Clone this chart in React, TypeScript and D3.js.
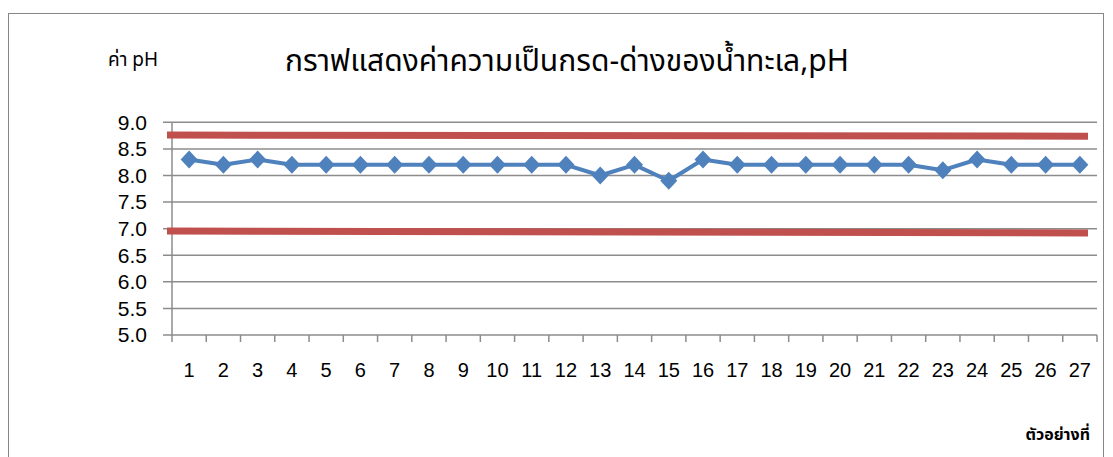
import React from "react";
import * as d3 from "d3";

const categories = Array.from({ length: 27 }, (_, i) => String(i + 1));
const phValues = [8.3, 8.2, 8.3, 8.2, 8.2, 8.2, 8.2, 8.2, 8.2, 8.2, 8.2, 8.2, 8.0, 8.2, 7.9, 8.3, 8.2, 8.2, 8.2, 8.2, 8.2, 8.2, 8.1, 8.3, 8.2, 8.2, 8.2];
const yTicks = [5.0, 5.5, 6.0, 6.5, 7.0, 7.5, 8.0, 8.5, 9.0];
const upperLimit = [8.76, 8.74];
const lowerLimit = [6.955, 6.92];
const title = "กราฟแสดงค่าความเป็นกรด-ด่างของน้ำทะเล,pH";
const yLabel = "ค่า pH";
const xLabel = "ตัวอย่างที่";

export default function App() {
  const W = 1113, H = 457;
  const left = 172, right = 1097, top = 122.3, bottom = 335;
  const x = d3.scaleBand<string>().domain(categories).range([left, right]);
  const y = d3.scaleLinear().domain([5, 9]).range([bottom, top]);
  const cx = (i: number) => (x(categories[i]) as number) + x.bandwidth() / 2;
  const line = d3.line<number>().x((_, i) => cx(i)).y((d) => y(d));
  const thai = "Tahoma, 'Noto Sans Thai', 'DejaVu Sans', sans-serif";
  const num = "'Liberation Sans', Arial, sans-serif";
  const limitX0 = 167, limitX1 = 1088;
  return (
    <svg width={W} height={H} style={{ position: "absolute", left: 0, top: 0, background: "#fff" }}>
      <rect x={8.5} y={13.5} width={1095} height={460} fill="#fff" stroke="#868686" strokeWidth={1} />
      {yTicks.map((t) => (
        <g key={t}>
          <line x1={163} x2={right} y1={y(t)} y2={y(t)} stroke="#8c8c8c" strokeWidth={1.5} />
          <text x={147} y={y(t)} dy="0.35em" textAnchor="end" fontFamily={num} fontSize={21} fill="#000">
            {t.toFixed(1)}
          </text>
        </g>
      ))}
      <line x1={left} x2={left} y1={top} y2={bottom} stroke="#8c8c8c" strokeWidth={1.5} />
      {categories.map((c) => (
        <line key={"t" + c} x1={(x(c) as number) + x.bandwidth()} x2={(x(c) as number) + x.bandwidth()} y1={bottom} y2={bottom + 7} stroke="#8c8c8c" strokeWidth={1.5} />
      ))}
      <line x1={left} x2={left} y1={bottom} y2={bottom + 7} stroke="#8c8c8c" strokeWidth={1.5} />
      {categories.map((c, i) => (
        <text key={"l" + c} x={cx(i)} y={377} textAnchor="middle" fontFamily={num} fontSize={20} fill="#000">
          {c}
        </text>
      ))}
      <line x1={limitX0} x2={limitX1} y1={y(upperLimit[0])} y2={y(upperLimit[1])} stroke="#C0504D" strokeWidth={7} />
      <line x1={limitX0} x2={limitX1} y1={y(lowerLimit[0])} y2={y(lowerLimit[1])} stroke="#C0504D" strokeWidth={7} />
      <path d={line(phValues) || ""} fill="none" stroke="#4F81BD" strokeWidth={4} strokeLinejoin="round" />
      {phValues.map((v, i) => (
        <path key={"m" + i} d={`M${cx(i)},${y(v) - 9} L${cx(i) + 8.5},${y(v)} L${cx(i)},${y(v) + 9} L${cx(i) - 8.5},${y(v)} Z`} fill="#4F81BD" />
      ))}
      <text x={108} y={66} fontFamily={thai} fontSize={19} fill="#000">{yLabel}</text>
      <text x={567} y={71} textAnchor="middle" fontFamily={thai} fontSize={30} fill="#000">{title}</text>
      <text x={1090} y={440} textAnchor="end" fontFamily={thai} fontSize={16} fontWeight="bold" fill="#000">{xLabel}</text>
    </svg>
  );
}
